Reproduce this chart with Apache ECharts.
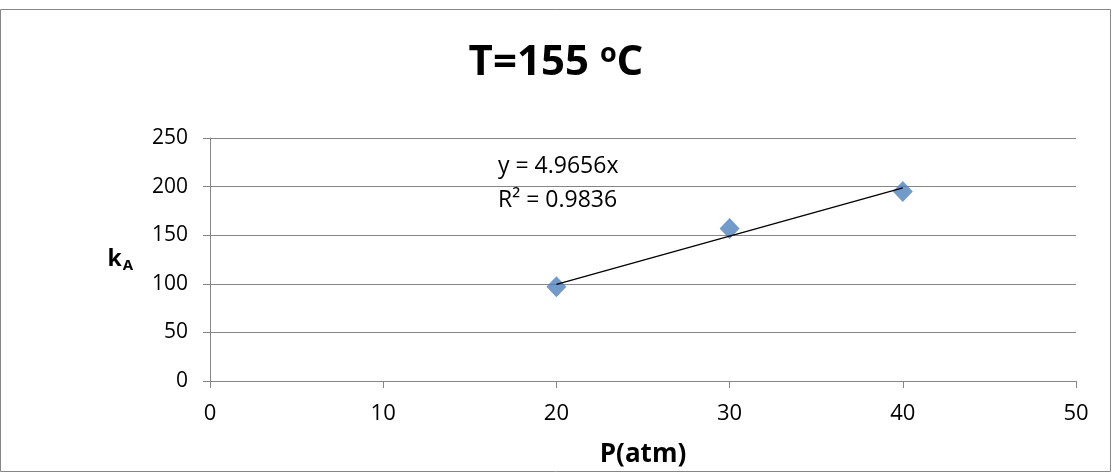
<!DOCTYPE html>
<html><head><meta charset="utf-8">
<script src="https://cdn.jsdelivr.net/npm/echarts@6/dist/echarts.min.js"></script>
<style>html,body{margin:0;padding:0;background:#fff}#c{width:1112px;height:473px}</style>
</head><body><div id="c"></div>
<script>
const pressure = [20, 30, 40];
const kA = [97, 157, 195];
const slope = 4.9656;
const r2 = 0.9836;
const xTicks = [0, 10, 20, 30, 40, 50];
const yTicks = [0, 50, 100, 150, 200, 250];
const trendX = [20, 40];

const FONT = '"Open Sans", "Liberation Sans", sans-serif';
const chart = echarts.init(document.getElementById('c'));
const points = pressure.map((p, i) => [p, kA[i]]);
const trend = trendX.map(x => [x, slope * x]);

chart.setOption({
  animation: false,
  title: {
    text: '{t|T=155 }{s|o}{t|C}',
    left: 'center', top: 36,
    textStyle: {
      rich: {
        t: { fontSize: 42, fontWeight: 'bold', color: '#000', fontFamily: FONT, lineHeight: 44 },
        s: { fontSize: 27, fontWeight: 'bold', color: '#000', fontFamily: FONT, verticalAlign: 'top', lineHeight: 44, padding: [0, 0, 16, 0] }
      }
    }
  },
  grid: { left: 210, right: 36, top: 138, bottom: 92, containLabel: false },
  xAxis: {
    type: 'value', min: 0, max: 50, interval: 10,
    name: 'P(atm)', nameLocation: 'middle', nameGap: 61,
    nameTextStyle: { fontSize: 26, fontWeight: 'bold', color: '#000', fontFamily: FONT },
    axisLine: { show: true, onZero: false, lineStyle: { color: '#868686', width: 1 } },
    axisTick: { show: true, length: 7, lineStyle: { color: '#868686' } },
    axisLabel: { fontSize: 22, color: '#000', fontFamily: FONT, margin: 22 },
    splitLine: { show: false }
  },
  yAxis: {
    type: 'value', min: 0, max: 250, interval: 50,
    name: '{k|k}{a|A}', nameLocation: 'middle', nameRotate: 0, nameGap: 77,
    nameTextStyle: {
      rich: {
        k: { fontSize: 23, fontWeight: 'bold', color: '#000', fontFamily: FONT },
        a: { fontSize: 15, fontWeight: 'bold', color: '#000', fontFamily: FONT, verticalAlign: 'bottom', padding: [12, 0, 0, 1] }
      }
    },
    axisLine: { show: true, lineStyle: { color: '#868686', width: 1 } },
    axisTick: { show: true, length: 7, lineStyle: { color: '#868686' } },
    axisLabel: { fontSize: 21, color: '#000', fontFamily: FONT, margin: 22 },
    splitLine: { show: true, lineStyle: { color: '#868686', width: 1 } }
  },
  series: [
    {
      type: 'line', data: trend, symbol: 'none',
      lineStyle: { color: '#000', width: 1.3 }, z: 3
    },
    {
      type: 'scatter', data: points, symbol: 'diamond', symbolSize: [20, 21],
      itemStyle: { color: '#4F81BD' }, z: 2
    }
  ],
  graphic: [
    {
      type: 'rect', silent: true, z: -1,
      shape: { x: 0.5, y: 9.5, width: 1110, height: 462 },
      style: { fill: null, stroke: '#868686', lineWidth: 1 }
    },
    {
      type: 'text', left: 498, top: 155,
      style: { text: 'y = ' + slope + 'x', font: '23px ' + FONT, fill: '#000' }
    },
    {
      type: 'text', left: 498, top: 189,
      style: { text: 'R² = ' + r2, font: '23px ' + FONT, fill: '#000' }
    }
  ]
});
</script></body></html>
